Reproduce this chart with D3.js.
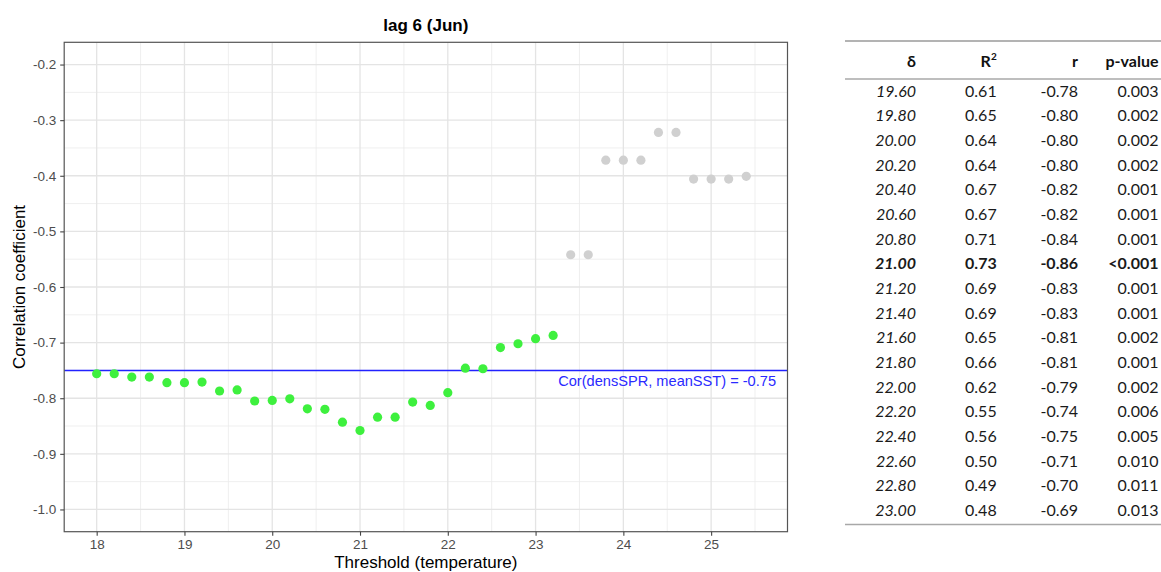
<!DOCTYPE html>
<html>
<head>
<meta charset="utf-8">
<script src="https://cdn.jsdelivr.net/npm/d3@7"></script>
<style>
  body { margin: 0; background: #fff; }
  svg text { font-family: "Liberation Sans", Arial, sans-serif; }
  .tbl text { font-family: Lato, "Open Sans", sans-serif; }
</style>
</head>
<body>
<div class="chart"></div>
<script>
let width = 1161
let height = 572

// chart data
const thresholds = [18.0, 18.2, 18.4, 18.6, 18.8, 19.0, 19.2, 19.4, 19.6, 19.8, 20.0, 20.2, 20.4, 20.6, 20.8,
  21.0, 21.2, 21.4, 21.6, 21.8, 22.0, 22.2, 22.4, 22.6, 22.8, 23.0, 23.2,
  23.4, 23.6, 23.8, 24.0, 24.2, 24.4, 24.6, 24.8, 25.0, 25.2, 25.4]
const corrs = [-0.756, -0.756, -0.762, -0.762, -0.772, -0.772, -0.771, -0.787, -0.785, -0.805, -0.804, -0.801, -0.819, -0.820, -0.843,
  -0.858, -0.834, -0.834, -0.807, -0.813, -0.790, -0.746, -0.747, -0.709, -0.702, -0.693, -0.687,
  -0.542, -0.542, -0.372, -0.372, -0.372, -0.322, -0.322, -0.406, -0.406, -0.406, -0.401]
const significant = [1,1,1,1,1,1,1,1,1,1,1,1,1,1,1,1,1,1,1,1,1,1,1,1,1,1,1, 0,0,0,0,0,0,0,0,0,0,0]
const refCor = -0.75
const refLabel = "Cor(densSPR, meanSST) = -0.75"
const xTicks = [18, 19, 20, 21, 22, 23, 24, 25]
const xMinor = [18.5, 19.5, 20.5, 21.5, 22.5, 23.5, 24.5, 25.5]
const yTicks = [-0.2, -0.3, -0.4, -0.5, -0.6, -0.7, -0.8, -0.9, -1.0]
const yMinor = [-0.25, -0.35, -0.45, -0.55, -0.65, -0.75, -0.85, -0.95]

// table data
const tblHeader = ["δ", "R", "r", "p-value"]
const tblDelta = ["19.60", "19.80", "20.00", "20.20", "20.40", "20.60", "20.80", "21.00", "21.20",
  "21.40", "21.60", "21.80", "22.00", "22.20", "22.40", "22.60", "22.80", "23.00"]
const tblR2 = ["0.61", "0.65", "0.64", "0.64", "0.67", "0.67", "0.71", "0.73", "0.69",
  "0.69", "0.65", "0.66", "0.62", "0.55", "0.56", "0.50", "0.49", "0.48"]
const tblR = ["-0.78", "-0.80", "-0.80", "-0.80", "-0.82", "-0.82", "-0.84", "-0.86", "-0.83",
  "-0.83", "-0.81", "-0.81", "-0.79", "-0.74", "-0.75", "-0.71", "-0.70", "-0.69"]
const tblP = ["0.003", "0.002", "0.002", "0.002", "0.001", "0.001", "0.001", "<0.001", "0.001",
  "0.001", "0.002", "0.001", "0.002", "0.006", "0.005", "0.010", "0.011", "0.013"]
const bestRow = "21.00"

const data = thresholds.map((t, i) => ({t: t, c: corrs[i], sig: significant[i]}))

const svg = d3.select(".chart")
  .append("svg")
  .attr("width", width)
  .attr("height", height)

const x = d3.scaleLinear()
  .domain([17.63, 25.87])
  .range([64.2, 787.5])
const y = d3.scaleLinear()
  .domain([-1.04, -0.16])
  .range([531.7, 42.3])

const plot = svg.append("g")

// grid
plot.selectAll(".xminor").data(xMinor).enter().append("line")
  .attr("x1", d => x(d)).attr("x2", d => x(d))
  .attr("y1", y.range()[0]).attr("y2", y.range()[1])
  .style("stroke", "#ebebeb").style("stroke-width", 0.8)
plot.selectAll(".yminor").data(yMinor).enter().append("line")
  .attr("y1", d => y(d)).attr("y2", d => y(d))
  .attr("x1", x.range()[0]).attr("x2", x.range()[1])
  .style("stroke", "#ebebeb").style("stroke-width", 0.8)
plot.selectAll(".xmajor").data(xTicks).enter().append("line")
  .attr("x1", d => x(d)).attr("x2", d => x(d))
  .attr("y1", y.range()[0]).attr("y2", y.range()[1])
  .style("stroke", "#e4e4e4").style("stroke-width", 1.3)
plot.selectAll(".ymajor").data(yTicks).enter().append("line")
  .attr("y1", d => y(d)).attr("y2", d => y(d))
  .attr("x1", x.range()[0]).attr("x2", x.range()[1])
  .style("stroke", "#e4e4e4").style("stroke-width", 1.3)

// reference line + label
plot.append("line")
  .attr("x1", x.range()[0]).attr("x2", x.range()[1])
  .attr("y1", y(refCor)).attr("y2", y(refCor))
  .style("stroke", "#2222ff").style("stroke-width", 1.5)

plot.selectAll(".pt")
  .data(data)
  .enter()
  .append("circle")
  .attr("cx", d => x(d.t))
  .attr("cy", d => y(d.c))
  .attr("r", 4.6)
  .style("fill", d => d.sig ? "#3ef03e" : "#d0d0d0")

plot.append("text")
  .attr("x", 776)
  .attr("y", y(refCor) + 16)
  .attr("text-anchor", "end")
  .style("font-size", "14.6px")
  .style("fill", "#2a2aff")
  .text(refLabel)

// panel border
plot.append("rect")
  .attr("x", x.range()[0]).attr("y", y.range()[1])
  .attr("width", x.range()[1] - x.range()[0])
  .attr("height", y.range()[0] - y.range()[1])
  .style("fill", "none").style("stroke", "#555").style("stroke-width", 1.2)

// axes
const xAxis = svg.append("g")
  .attr("transform", `translate(0,${y.range()[0]})`)
  .call(d3.axisBottom(x).tickValues(xTicks).tickSize(4).tickPadding(4).tickFormat(d3.format("d")))
const yAxis = svg.append("g")
  .attr("transform", `translate(${x.range()[0]},0)`)
  .call(d3.axisLeft(y).tickValues(yTicks).tickSize(4).tickPadding(4).tickFormat(d3.format(".1f")))
;[xAxis, yAxis].forEach(a => {
  a.select(".domain").remove()
  a.selectAll(".tick line").style("stroke", "#444").style("stroke-width", 1.1)
  a.selectAll(".tick text").style("fill", "#4d4d4d").style("font-size", "13.5px")
    .style("font-family", "'Liberation Sans', Arial, sans-serif")
})
yAxis.selectAll(".tick text").text(d => d3.format(".1f")(d).replace("−", "-"))

// titles
svg.append("text")
  .attr("x", (x.range()[0] + x.range()[1]) / 2)
  .attr("y", 31)
  .attr("text-anchor", "middle")
  .style("font-size", "17px").style("font-weight", "bold")
  .text("lag 6 (Jun)")
svg.append("text")
  .attr("x", (x.range()[0] + x.range()[1]) / 2)
  .attr("y", 568)
  .attr("text-anchor", "middle")
  .style("font-size", "17px")
  .text("Threshold (temperature)")
svg.append("text")
  .attr("transform", `translate(25,${(y.range()[0] + y.range()[1]) / 2}) rotate(-90)`)
  .attr("text-anchor", "middle")
  .style("font-size", "17px")
  .text("Correlation coefficient")

// table
const tbl = svg.append("g").attr("class", "tbl")
const colRight = [916, 996.7, 1078, 1158.5]
const rowY = d3.scalePoint()
  .domain(tblDelta)
  .range([96.5, 516])
const rows = tblDelta.map((d, i) => [d, tblR2[i], tblR[i], tblP[i]])

tbl.append("line").attr("x1", 845).attr("x2", 1161).attr("y1", 41).attr("y2", 41)
  .style("stroke", "#9a9a9a").style("stroke-width", 1.6)
tbl.append("line").attr("x1", 845).attr("x2", 1161).attr("y1", 79).attr("y2", 79)
  .style("stroke", "#a8a8a8").style("stroke-width", 1.3)
tbl.append("line").attr("x1", 845).attr("x2", 1161).attr("y1", 524.5).attr("y2", 524.5)
  .style("stroke", "#a8a8a8").style("stroke-width", 1.3)

tbl.selectAll(".hd").data(tblHeader).enter().append("text")
  .attr("x", (d, i) => colRight[i] - (i == 1 ? 6 : 0))
  .attr("y", 67)
  .attr("text-anchor", "end")
  .style("font-size", "16px").style("font-weight", "bold").style("fill", "#111")
  .text(d => d)
tbl.append("text")
  .attr("x", colRight[1]).attr("y", 60)
  .attr("text-anchor", "end")
  .style("font-size", "10px").style("font-weight", "bold").style("fill", "#111")
  .text("2")

const rowG = tbl.selectAll(".row").data(rows).enter().append("g")
  .attr("transform", d => `translate(0,${rowY(d[0])})`)
rowG.selectAll("text").data(d => d.map((v, i) => ({v: v, i: i, best: d[0] == bestRow})))
  .enter().append("text")
  .attr("x", d => colRight[d.i])
  .attr("text-anchor", "end")
  .style("font-size", "16px")
  .style("fill", "#1a1a1a")
  .style("font-style", d => d.i == 0 ? "italic" : "normal")
  .style("font-weight", d => d.best ? "bold" : "normal")
  .text(d => d.v)
</script>
</body>
</html>
